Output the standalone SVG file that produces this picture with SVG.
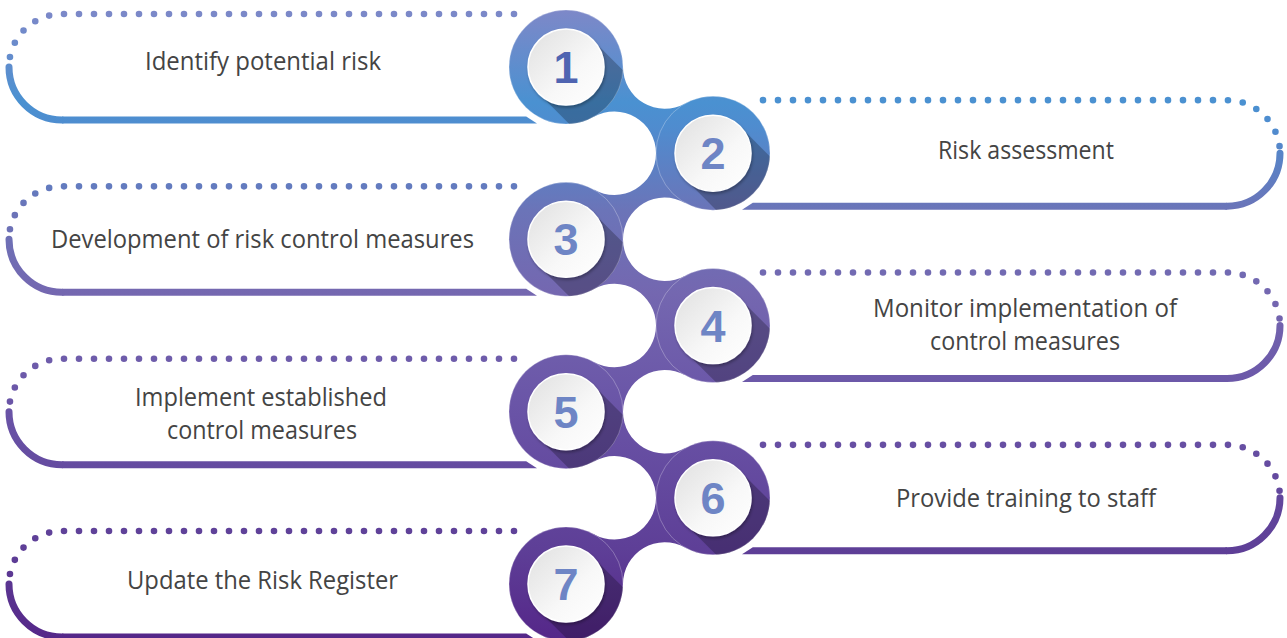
<svg xmlns="http://www.w3.org/2000/svg" width="1287" height="638" viewBox="0 0 1287 638">
<style>
.fillg{fill:url(#g)}
.ring{fill:url(#g);stroke:#fff;stroke-opacity:.35;stroke-width:.8}
.dots{fill:none;stroke:url(#g);stroke-width:6.6;stroke-linecap:round;stroke-dasharray:0 15}
.solid{fill:none;stroke:url(#g);stroke-width:7;stroke-linecap:round}
.shadow{fill:#000;fill-opacity:.24}
.inner{fill:url(#ig);stroke:#fff;stroke-width:1.5}
.num{font-family:"Liberation Sans",Arial,sans-serif;font-weight:bold;font-size:45px;fill:#6e85c5;text-anchor:middle}
.lbl{font-family:"Open Sans","Liberation Sans",sans-serif;font-size:25px;fill:#444;text-anchor:middle}
</style>
<defs>
<linearGradient id="g" gradientUnits="userSpaceOnUse" x1="0" y1="0" x2="0" y2="638">
<stop offset="0" stop-color="#8387c7"/>
<stop offset="0.16" stop-color="#4a91d1"/>
<stop offset="0.2" stop-color="#4f8ccf"/>
<stop offset="0.33" stop-color="#6b74b8"/>
<stop offset="0.46" stop-color="#7467b0"/>
<stop offset="0.65" stop-color="#6953a6"/>
<stop offset="0.86" stop-color="#5e3f97"/>
<stop offset="1" stop-color="#552789"/>
</linearGradient>
<linearGradient id="ig" x1="0" y1="0" x2="1" y2="1">
<stop offset="0" stop-color="#e0e0e0"/>
<stop offset="0.6" stop-color="#f8f8f8"/>
<stop offset="1" stop-color="#ffffff"/>
</linearGradient>
<clipPath id="cc"><circle cx="0" cy="0" r="57"/></clipPath>
<filter id="ds" x="-30%" y="-30%" width="160%" height="160%">
<feDropShadow dx="1" dy="2" stdDeviation="1.5" flood-color="#000" flood-opacity="0.3"/>
</filter>
</defs>

<g id="connectors">
<path class="fillg" d="M623,67 A41.76,41.76 0 0 0 685.16,103.44 L656,153.17 A41.76,41.76 0 0 0 593.84,116.73 Z"/>
<path class="fillg" d="M656,153.17 A41.76,41.76 0 0 1 593.84,189.61 L623,239.34 A41.76,41.76 0 0 1 685.16,202.9 Z"/>
<path class="fillg" d="M623,239.34 A41.76,41.76 0 0 0 685.16,275.78 L656,325.51 A41.76,41.76 0 0 0 593.84,289.07 Z"/>
<path class="fillg" d="M656,325.51 A41.76,41.76 0 0 1 593.84,361.95 L623,411.68 A41.76,41.76 0 0 1 685.16,375.24 Z"/>
<path class="fillg" d="M623,411.68 A41.76,41.76 0 0 0 685.16,448.12 L656,497.85 A41.76,41.76 0 0 0 593.84,461.41 Z"/>
<path class="fillg" d="M656,497.85 A41.76,41.76 0 0 1 593.84,534.29 L623,584.02 A41.76,41.76 0 0 1 685.16,547.58 Z"/>
</g>

<g id="node1">
<path class="dots" d="M514,14 H62 A53,53 0 0 0 9,67"/>
<path class="solid" d="M9,67 A53,53 0 0 0 62,120"/>
<polygon class="fillg" points="62,116.5 526.2,116.5 537,123.5 62,123.5"/>
<circle class="ring" cx="566" cy="67" r="57"/>
<g transform="translate(566,67)">
<polygon class="shadow" clip-path="url(#cc)" points="26.87,-26.87 106.87,53.13 53.13,106.87 -26.87,26.87"/>
<circle class="inner" r="38" filter="url(#ds)"/>
<text class="num" x="0" y="16" style="fill:#4f64b1">1</text>
</g>
<text class="lbl" x="263" y="70" textLength="236" lengthAdjust="spacingAndGlyphs">Identify potential risk</text>
</g>

<g id="node2">
<path class="dots" d="M763,100.17 H1227 A53,53 0 0 1 1280,153.17"/>
<path class="solid" d="M1280,153.17 A53,53 0 0 1 1227,206.17"/>
<polygon class="fillg" points="1227,202.67 752.8,202.67 742,209.67 1227,209.67"/>
<circle class="ring" cx="713" cy="153.17" r="57"/>
<g transform="translate(713,153.17)">
<polygon class="shadow" clip-path="url(#cc)" points="26.87,-26.87 106.87,53.13 53.13,106.87 -26.87,26.87"/>
<circle class="inner" r="38" filter="url(#ds)"/>
<text class="num" x="0" y="16">2</text>
</g>
<text class="lbl" x="1026" y="159" textLength="176" lengthAdjust="spacingAndGlyphs">Risk assessment</text>
</g>

<g id="node3">
<path class="dots" d="M514,186.34 H62 A53,53 0 0 0 9,239.34"/>
<path class="solid" d="M9,239.34 A53,53 0 0 0 62,292.34"/>
<polygon class="fillg" points="62,288.84 526.2,288.84 537,295.84 62,295.84"/>
<circle class="ring" cx="566" cy="239.34" r="57"/>
<g transform="translate(566,239.34)">
<polygon class="shadow" clip-path="url(#cc)" points="26.87,-26.87 106.87,53.13 53.13,106.87 -26.87,26.87"/>
<circle class="inner" r="38" filter="url(#ds)"/>
<text class="num" x="0" y="16">3</text>
</g>
<text class="lbl" x="262.5" y="248" textLength="423" lengthAdjust="spacingAndGlyphs">Development of risk control measures</text>
</g>

<g id="node4">
<path class="dots" d="M763,272.51 H1227 A53,53 0 0 1 1280,325.51"/>
<path class="solid" d="M1280,325.51 A53,53 0 0 1 1227,378.51"/>
<polygon class="fillg" points="1227,375.01 752.8,375.01 742,382.01 1227,382.01"/>
<circle class="ring" cx="713" cy="325.51" r="57"/>
<g transform="translate(713,325.51)">
<polygon class="shadow" clip-path="url(#cc)" points="26.87,-26.87 106.87,53.13 53.13,106.87 -26.87,26.87"/>
<circle class="inner" r="38" filter="url(#ds)"/>
<text class="num" x="0" y="16">4</text>
</g>
<text class="lbl" x="1025" y="317" textLength="304" lengthAdjust="spacingAndGlyphs">Monitor implementation of</text>
<text class="lbl" x="1025" y="350" textLength="190" lengthAdjust="spacingAndGlyphs">control measures</text>
</g>

<g id="node5">
<path class="dots" d="M514,358.68 H62 A53,53 0 0 0 9,411.68"/>
<path class="solid" d="M9,411.68 A53,53 0 0 0 62,464.68"/>
<polygon class="fillg" points="62,461.18 526.2,461.18 537,468.18 62,468.18"/>
<circle class="ring" cx="566" cy="411.68" r="57"/>
<g transform="translate(566,411.68)">
<polygon class="shadow" clip-path="url(#cc)" points="26.87,-26.87 106.87,53.13 53.13,106.87 -26.87,26.87"/>
<circle class="inner" r="38" filter="url(#ds)"/>
<text class="num" x="0" y="16">5</text>
</g>
<text class="lbl" x="261" y="406" textLength="252" lengthAdjust="spacingAndGlyphs">Implement established</text>
<text class="lbl" x="262" y="439" textLength="190" lengthAdjust="spacingAndGlyphs">control measures</text>
</g>

<g id="node6">
<path class="dots" d="M763,444.85 H1227 A53,53 0 0 1 1280,497.85"/>
<path class="solid" d="M1280,497.85 A53,53 0 0 1 1227,550.85"/>
<polygon class="fillg" points="1227,547.35 752.8,547.35 742,554.35 1227,554.35"/>
<circle class="ring" cx="713" cy="497.85" r="57"/>
<g transform="translate(713,497.85)">
<polygon class="shadow" clip-path="url(#cc)" points="26.87,-26.87 106.87,53.13 53.13,106.87 -26.87,26.87"/>
<circle class="inner" r="38" filter="url(#ds)"/>
<text class="num" x="0" y="16">6</text>
</g>
<text class="lbl" x="1026" y="507" textLength="260" lengthAdjust="spacingAndGlyphs">Provide training to staff</text>
</g>

<g id="node7">
<path class="dots" d="M514,531.02 H62 A53,53 0 0 0 9,584.02"/>
<path class="solid" d="M9,584.02 A53,53 0 0 0 62,637.02"/>
<polygon class="fillg" points="62,633.52 526.2,633.52 537,640.52 62,640.52"/>
<circle class="ring" cx="566" cy="584.02" r="57"/>
<g transform="translate(566,584.02)">
<polygon class="shadow" clip-path="url(#cc)" points="26.87,-26.87 106.87,53.13 53.13,106.87 -26.87,26.87"/>
<circle class="inner" r="38" filter="url(#ds)"/>
<text class="num" x="0" y="16">7</text>
</g>
<text class="lbl" x="262.5" y="589" textLength="271" lengthAdjust="spacingAndGlyphs">Update the Risk Register</text>
</g>
</svg>
